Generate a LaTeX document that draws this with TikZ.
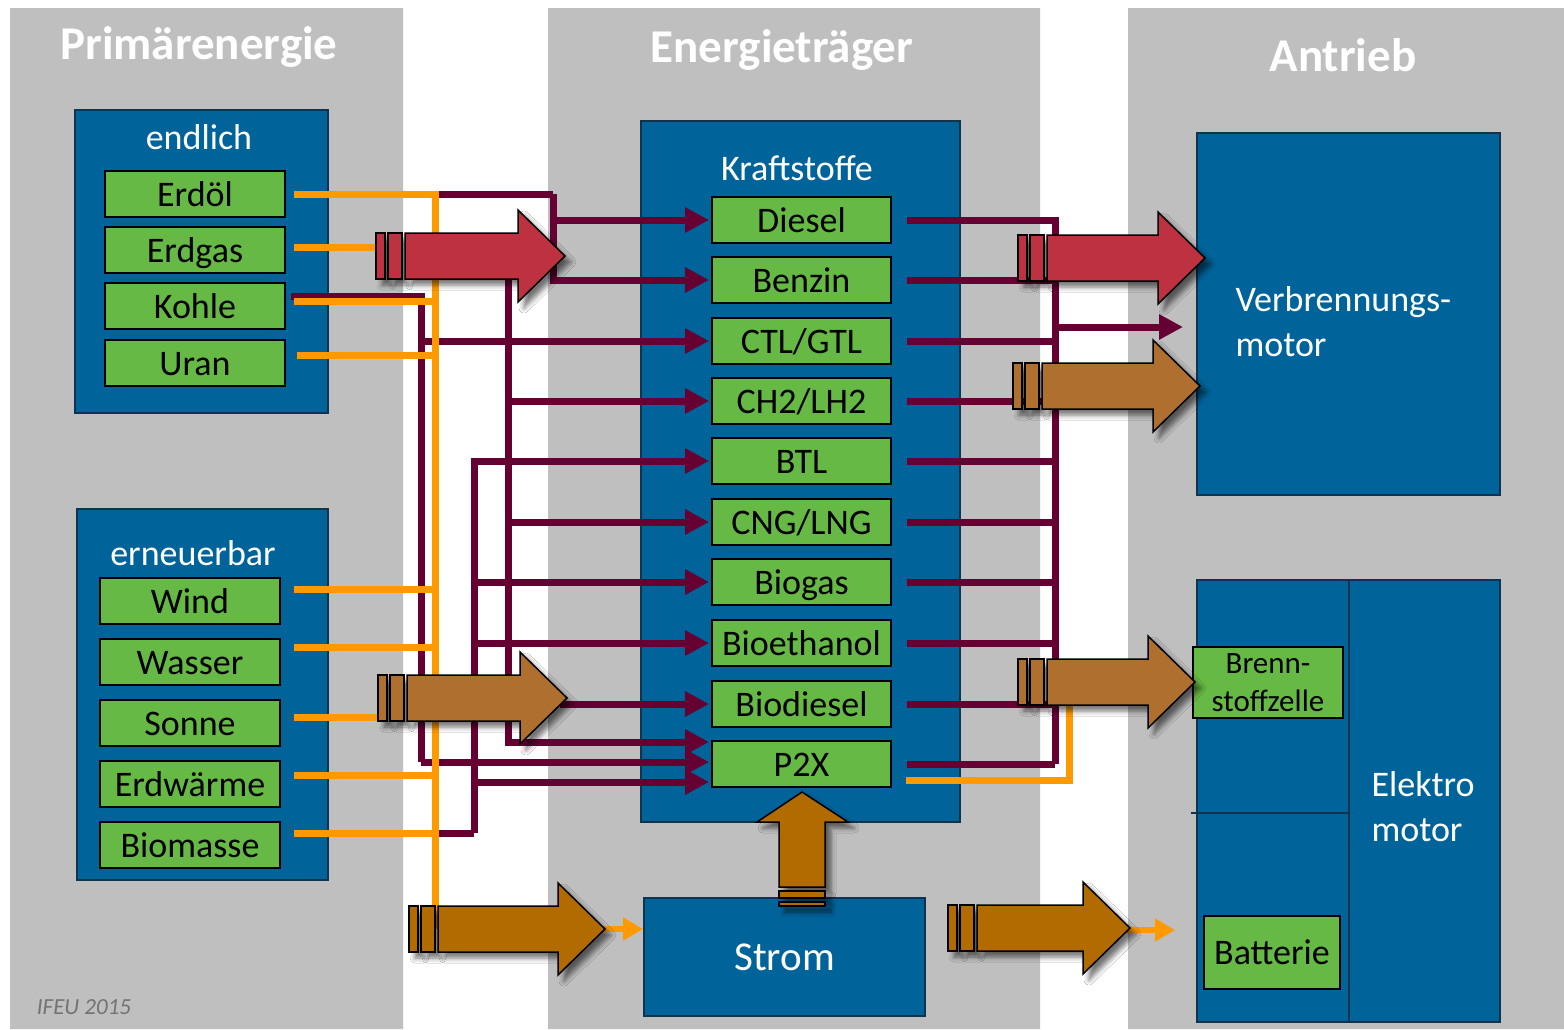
\documentclass[tikz,border=0pt]{standalone}
\usepackage{fontspec}
\setmainfont{Carlito}
\usetikzlibrary{arrows.meta,calc,shadows.blur}

\definecolor{panelgray}{RGB}{191,191,191}
\definecolor{boxblue}{RGB}{0,99,153}
\definecolor{boxedge}{RGB}{16,52,80}
\definecolor{leafgreen}{RGB}{103,185,69}
\definecolor{pipewine}{RGB}{102,0,51}
\definecolor{pipeorange}{RGB}{255,153,0}
\definecolor{fatred}{RGB}{190,49,64}
\definecolor{fatbrown}{RGB}{174,111,47}
\definecolor{fatochre}{RGB}{178,107,0}

\tikzset{
  group/.style={fill=boxblue, draw=boxedge, line width=2pt, inner sep=0pt},
  greenbox/.style={fill=leafgreen, draw=black, line width=2pt, inner sep=0pt},
  item/.style={greenbox, minimum width=180pt, minimum height=46pt, text height=28pt, text depth=4pt, font=\fontsize{36}{40}\selectfont},
  heading/.style={text=white, font=\bfseries\fontsize{47}{52}\selectfont},
  caption/.style={text=white, font=\fontsize{36}{45}\selectfont},
  wine/.style={draw=pipewine, line width=7pt},
  feed/.style={wine, -{Triangle[length=24pt,width=24pt]}, shorten >=2pt},
  sun/.style={draw=pipeorange, line width=7pt},
  spark/.style={draw=pipeorange, line width=6pt, -{Triangle[length=20pt,width=22pt]}},
  fat/.style={draw=black, line width=1.5pt, blur shadow={shadow xshift=6pt, shadow yshift=-6pt, shadow blur radius=5pt, shadow opacity=55}},
}

% big arrow: #1 fill, #2 tail x, #3 centre y, #4 tip x
\newcommand{\fatarrow}[4]{%
  \draw[fat, fill=#1] (#2,{#3-23}) rectangle ++(9,46);
  \draw[fat, fill=#1] ({#2+12},{#3-23}) rectangle ++(14,46);
  \draw[fat, fill=#1] ({#2+29},{#3-23}) -- ({#4-47},{#3-23}) -- ({#4-47},{#3-46})
    -- (#4,#3) -- ({#4-47},{#3+46}) -- ({#4-47},{#3+23}) -- ({#2+29},{#3+23}) -- cycle;
}

\begin{document}
\begin{tikzpicture}[x=1pt, y=-1pt]
\useasboundingbox (0,0) rectangle (1564,1029);
\fill[white] (0,0) rectangle (1564,1029);
\fill[panelgray] (10,8) rectangle (403,1029)
                 (548,8) rectangle (1040,1029)
                 (1128,8) rectangle (1564,1029);

\path (199,47) node[heading] (primaer) {Primärenergie}
      (782,50) node[heading] (traeger) {Energieträger}
      (1343,55) node[heading] (antrieb) {Antrieb};

% Gruppen
\path (201.5,261.5) node[group, minimum width=253pt, minimum height=303pt] (endlich) {}
      (202.5,694.5) node[group, minimum width=251pt, minimum height=371pt] (erneuerbar) {}
      (800.5,471.5) node[group, minimum width=319pt, minimum height=701pt] (kraftstoffe) {}
      (784.5,957) node[group, minimum width=281pt, minimum height=118pt, text=white, font=\fontsize{41}{46}\selectfont] (strom) {Strom}
      (1348.5,314) node[group, minimum width=303pt, minimum height=362pt] (vmotor) {}
      (1348.5,801) node[group, minimum width=303pt, minimum height=442pt] (emotor) {};

\path (199,137) node[caption] (endlichtext) {endlich}
      (193,553) node[caption] (erneuerbartext) {erneuerbar}
      (797,168) node[caption] (kraftstofftext) {Kraftstoffe}
      (1232,322) node[caption, anchor=west, align=left] (vmotortext) {Verbrennungs-\\motor}
      (1368,807) node[caption, anchor=west, align=left] (emotortext) {Elektro\\motor};

\coordinate (split) at (1349,813);
\draw[boxedge, line width=1.5pt] (split |- emotor.north) -- (split |- emotor.south)
      ($(split -| emotor.west)+(-5,0)$) -- (split);

% Quellen
\path (195,194) node[item] (erdoel) {Erdöl}
      (195,250) node[item] (erdgas) {Erdgas}
      (195,306) node[item] (kohle) {Kohle}
      (195,363) node[item] (uran) {Uran}
      (190,601) node[item] (wind) {Wind}
      (190,662) node[item] (wasser) {Wasser}
      (190,723) node[item] (sonne) {Sonne}
      (190,784) node[item] (erdwaerme) {Erdwärme}
      (190,845) node[item] (biomasse) {Biomasse};

% Kraftstoffe
\path (801.5,220) node[item, minimum width=179pt] (diesel) {Diesel}
      (801.5,280) node[item, minimum width=179pt] (benzin) {Benzin}
      (801.5,341) node[item, minimum width=179pt] (ctl) {CTL/GTL}
      (801.5,401) node[item, minimum width=179pt] (ch2) {CH2/LH2}
      (801.5,461) node[item, minimum width=179pt] (btl) {BTL}
      (801.5,522) node[item, minimum width=179pt] (cng) {CNG/LNG}
      (801.5,582) node[item, minimum width=179pt] (biogas) {Biogas}
      (801.5,643) node[item, minimum width=179pt] (bioeth) {Bioethanol}
      (801.5,704) node[item, minimum width=179pt] (biodiesel) {Biodiesel}
      (801.5,764) node[item, minimum width=179pt] (ptx) {P2X};

\path (1268,682.5) node[greenbox, minimum width=150pt, minimum height=71pt, align=center, font=\fontsize{31}{38}\selectfont] (zelle) {Brenn-\\stoffzelle}
      (1272,952.5) node[item, minimum width=136pt, minimum height=73pt] (batterie) {Batterie};

\node[text=black!55, font=\itshape\fontsize{23}{27}\selectfont] (ifeu) at (84,1007) {IFEU 2015};

\coordinate (otop) at (435,194);
\coordinate (obot) at (435,929);
\coordinate (fosbus) at (553,194);
\coordinate (kbend) at (421,296);
\coordinate (kbus) at (421,762);
\coordinate (midbus) at (508,276);
\coordinate (biobus) at (474,833);
\coordinate (greentip) at (560,698);
\coordinate (outbus) at (1055,764);
\coordinate (fcbus) at (1069,705);
\coordinate (motorin) at (1185,327);
\coordinate (stromtip) at (600,929);
\coordinate (akkutip) at (1125,930);
\coordinate (akkuin) at (1175,930);

% Leitungen fossil / biogen
\draw[wine] (otop) -- (fosbus);
\draw[feed] (fosbus) |- (diesel.west);
\draw[feed] (fosbus) |- (benzin.west);
\draw[wine] ($(kohle.east)+(5,-10)$) -| (kbus);
\draw[feed] (kbend) |- (ctl.west);
\draw[feed] (kbus) -- (kbus -| ptx.west);
\draw[feed] (midbus) |- (ch2.west);
\draw[feed] (midbus) |- (cng.west);
\draw[feed] (midbus) |- ($(ptx.west)+(0,-22)$);
\draw[wine] (biobus -| obot) -- (biobus);
\draw[feed] (biobus) |- (btl.west);
\draw[feed] (biobus) |- (biogas.west);
\draw[feed] (biobus) |- (bioeth.west);
\draw[feed] (biobus) |- ($(ptx.west)+(0,18)$);
\draw[feed] (greentip |- biodiesel.west) -- (biodiesel.west);

\foreach \f in {diesel,benzin,ctl,ch2,btl,cng,biogas,bioeth,biodiesel}
  \draw[wine] ($(\f.east)+(15,0)$) -| (outbus);
\draw[wine] ($(ptx.east)+(15,0)$) -- (outbus);
\draw[feed] (motorin -| outbus) -- (motorin);

% Leitungen Primaerenergie
\draw[sun] ($(erdoel.east)+(8,0)$) -- (otop) -- (obot);
\draw[sun] ($(erdgas.east)+(8,-3)$) -- ++(87,0);
\draw[sun] ($(kohle.east)+(8,-5)$) -| (otop);
\draw[sun] ($(uran.east)+(11,-8)$) -| (otop);
\draw[sun] ($(wind.east)+(13,-12)$) -| (otop);
\draw[sun] ($(wasser.east)+(13,-15)$) -| (otop);
\draw[sun] ($(sonne.east)+(13,-6)$) -- ++(87,0);
\draw[sun] ($(erdwaerme.east)+(13,-9)$) -| (otop);
\draw[sun] ($(biomasse.east)+(13,-12)$) -| (otop);
\draw[sun] ($(ptx.east)+(14,16)$) -| (fcbus);
\draw[spark] (stromtip) -- (stromtip -| strom.west);
\draw[spark] (akkutip) -- (akkuin);

% grosse Pfeile
\fatarrow{fatred}{376}{256}{565}
\fatarrow{fatbrown}{378}{698}{567}
\fatarrow{fatochre}{409}{929}{605}
\fatarrow{fatred}{1018}{258}{1205}
\fatarrow{fatbrown}{1013}{386}{1200}
\fatarrow{fatbrown}{1018}{682}{1195}
\fatarrow{fatochre}{948}{928}{1130}
\draw[fat, fill=fatochre] (779,887) -- (779,822) -- (757,822) -- (802,792)
  -- (848,822) -- (825,822) -- (825,887) -- cycle;
\draw[fat, fill=fatochre] (779,891) rectangle (825,898);
\draw[fat, fill=fatochre] (779,902) rectangle (825,906);
\end{tikzpicture}
\end{document}
